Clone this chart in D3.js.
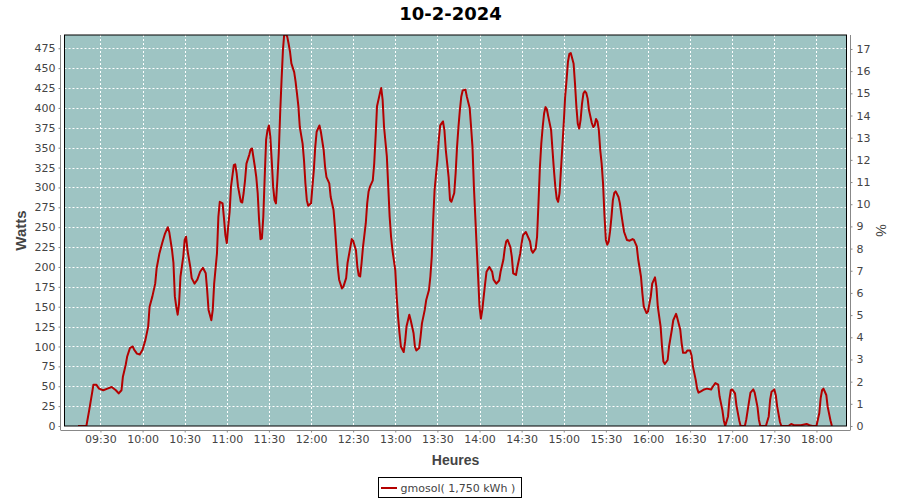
<!DOCTYPE html>
<html><head><meta charset="utf-8">
<script src="https://cdn.jsdelivr.net/npm/d3@7"></script>
<style>
html,body{margin:0;padding:0;background:#fff;}
svg{display:block;}
</style></head>
<body>
<svg id="chart" width="900" height="500"></svg>
<script>
const chartTitle = "10-2-2024";
const seriesName = "gmosol( 1,750 kWh )";
const xTickLabels = ["09:30","10:00","10:30","11:00","11:30","12:00","12:30","13:00","13:30","14:00","14:30","15:00","15:30","16:00","16:30","17:00","17:30","18:00"];
const yTickValues = [0,25,50,75,100,125,150,175,200,225,250,275,300,325,350,375,400,425,450,475];
const pctTickValues = [0,1,2,3,4,5,6,7,8,9,10,11,12,13,14,15,16,17];
const times = ["09:14","09:20","09:22","09:24","09:25","09:27","09:29","09:32","09:35","09:38","09:41","09:43","09:45","09:46","09:48","09:49","09:51","09:53","09:54","09:56","09:58",
"10:00","10:02","10:04","10:05","10:07","10:09","10:10","10:12","10:14","10:16","10:18","10:19","10:21","10:22","10:23","10:24","10:25","10:26","10:27","10:29","10:30","10:31","10:32","10:34","10:35","10:37","10:39","10:41","10:43","10:45","10:46","10:47","10:49","10:50","10:51","10:53","10:54","10:55","10:57","10:58","10:59",
"11:00","11:01","11:02","11:03","11:05","11:06","11:07","11:08","11:10","11:11","11:12","11:13","11:14","11:16","11:17","11:18","11:20","11:21","11:22","11:23","11:24","11:25","11:26","11:27","11:28","11:29","11:30","11:31","11:32","11:33","11:34","11:35","11:36","11:37","11:38","11:39","11:40","11:41","11:43","11:44","11:45","11:46","11:48","11:49","11:50","11:51","11:52","11:54","11:55","11:56","11:57","11:58",
"12:00","12:01","12:02","12:03","12:04","12:06","12:07","12:09","12:10","12:11","12:13","12:14","12:16","12:17","12:18","12:19","12:20","12:22","12:23","12:25","12:26","12:28","12:29","12:30","12:32","12:33","12:34","12:35","12:36","12:37","12:39","12:40","12:41","12:42","12:44","12:45","12:46","12:47","12:49","12:50","12:51","12:52","12:54","12:55","12:56","12:57","12:58",
"13:00","13:01","13:02","13:03","13:04","13:06","13:07","13:08","13:10","13:11","13:13","13:14","13:15","13:17","13:18","13:19","13:21","13:22","13:24","13:25","13:26","13:27","13:28","13:30","13:31","13:32","13:34","13:35","13:36","13:38","13:39","13:40","13:42","13:43","13:44","13:45","13:46","13:47","13:48","13:50","13:51","13:53","13:54","13:55","13:56","13:57","13:58","13:59",
"14:00","14:01","14:02","14:03","14:04","14:05","14:07","14:09","14:10","14:12","14:14","14:15","14:17","14:18","14:19","14:20","14:22","14:23","14:24","14:26","14:27","14:29","14:30","14:31","14:33","14:34","14:36","14:37","14:38","14:40","14:41","14:42","14:43","14:44","14:45","14:46","14:47","14:48","14:49","14:51","14:52","14:53","14:54","14:55","14:56","14:57","14:58","14:59",
"15:00","15:01","15:02","15:03","15:04","15:05","15:07","15:08","15:09","15:10","15:11","15:12","15:13","15:14","15:15","15:16","15:17","15:18","15:20","15:21","15:22","15:23","15:24","15:25","15:26","15:27","15:28","15:29","15:30","15:31","15:32","15:33","15:34","15:35","15:36","15:37","15:39","15:40","15:41","15:42","15:43","15:45","15:47","15:49","15:50","15:52","15:53","15:55","15:56","15:57","15:59",
"16:00","16:02","16:03","16:05","16:06","16:07","16:09","16:10","16:11","16:12","16:14","16:15","16:17","16:18","16:20","16:21","16:23","16:24","16:25","16:27","16:28","16:30","16:31","16:32","16:34","16:35","16:36","16:38","16:40","16:42","16:45","16:46","16:48","16:50","16:51","16:53","16:54","16:55","16:57","16:58","16:59",
"17:00","17:02","17:03","17:05","17:06","17:09","17:10","17:12","17:13","17:15","17:16","17:18","17:19","17:20","17:24","17:26","17:27","17:28","17:30","17:31","17:32","17:34","17:35","17:40","17:42","17:44","17:49","17:53","17:55","17:57",
"18:00","18:02","18:03","18:04","18:05","18:07","18:08","18:10","18:11"];
const watts = [0,0,20,41,52,52,47,45,47,49,45,41,45,62,77,87,98,100,96,91,90,
96,108,125,150,163,179,198,217,230,242,250,244,221,205,163,150,140,154,188,213,234,238,221,200,186,179,184,194,199,192,171,146,133,146,179,217,263,282,280,261,240,
230,251,269,301,328,329,318,301,282,281,293,309,330,341,348,349,326,313,293,259,235,236,263,313,360,372,378,364,334,301,284,280,309,343,393,435,473,495,490,481,471,456,445,433,418,402,376,355,334,305,284,277,
280,301,322,351,370,378,370,347,326,313,305,288,272,251,225,200,184,173,175,186,205,225,235,233,221,200,189,188,205,225,255,280,295,301,309,330,364,402,418,425,410,376,339,301,263,238,221,
196,163,137,117,100,93,106,125,140,133,117,100,95,98,112,129,146,158,171,188,213,259,297,334,360,378,383,372,347,313,284,282,293,318,351,376,397,414,422,423,414,400,376,351,301,263,225,188,
150,135,146,163,179,194,200,194,184,179,183,194,209,223,232,234,225,213,192,190,200,217,230,240,244,240,232,221,218,223,238,280,325,355,376,393,401,398,389,372,347,322,301,286,282,293,322,351,
381,414,435,458,468,469,456,431,402,380,374,385,405,418,421,419,412,397,381,376,378,386,383,372,347,330,305,265,234,228,232,245,263,284,293,295,288,280,267,255,244,234,233,235,234,226,210,188,167,150,142,
144,163,179,187,175,150,125,100,81,78,83,100,121,133,141,135,121,104,92,92,95,95,89,75,58,47,42,44,46,47,46,49,54,52,37,20,7,0,12,33,45,
46,41,26,7,0,0,8,31,42,46,42,24,8,0,0,12,33,43,46,39,25,5,0,0,2.5,1,1,2.5,1,0,
0,16,35,45,47,39,24,7,0];

const toMin = s => { const [h,m] = s.split(":").map(Number); return h*60+m; };
const data = times.map((t,i)=>({t:toMin(t), w:watts[i]}));

const svg = d3.select("#chart");
const L = 64.5, R = 846.5, T = 35, B = 426;
const x = d3.scaleLinear().domain([544.4, 1101.4]).range([L, R]);
const y = d3.scaleLinear().domain([0, 491.7]).range([B, T]);
const yR = d3.scaleLinear().domain([0, 17.63]).range([B, T]);

const tickFont = "DejaVu Sans, sans-serif";
const textCol = "#444";
const axisCol = "#888";

// title
svg.append("text").attr("x", 450.5).attr("y", 20).attr("text-anchor","middle")
  .attr("font-family","DejaVu Sans, sans-serif").attr("font-weight","bold").attr("font-size",18)
  .attr("fill","#000").text(chartTitle);

// plot background
svg.append("rect").attr("x",L).attr("y",T).attr("width",R-L).attr("height",B-T).attr("fill","#9ec4c3");

// grid
const grid = svg.append("g").attr("stroke","#fff").attr("stroke-width",1).attr("stroke-dasharray","2,2");
yTickValues.forEach(v=>{ if(v>0) grid.append("line").attr("x1",L).attr("x2",R).attr("y1",Math.round(y(v))+0.5).attr("y2",Math.round(y(v))+0.5); });
xTickLabels.forEach(s=>{ const xx = Math.round(x(toMin(s)))+0.5; grid.append("line").attr("x1",xx).attr("x2",xx).attr("y1",T).attr("y2",B); });

// line
svg.append("clipPath").attr("id","clip").append("rect").attr("x",L).attr("y",T).attr("width",R-L).attr("height",B-T);
const line = d3.line().x(d=>x(d.t)).y(d=>y(d.w));
svg.append("path").datum(data).attr("d",line).attr("fill","none").attr("stroke","#b40000")
  .attr("stroke-width",2).attr("stroke-linejoin","round").attr("clip-path","url(#clip)");

// plot border
svg.append("rect").attr("x",L).attr("y",T).attr("width",R-L).attr("height",B-T).attr("fill","none").attr("stroke","#000").attr("stroke-width",1);

// left axis
const gL = svg.append("g").attr("transform","translate(60.5,0)")
  .call(d3.axisLeft(y).tickValues(yTickValues).tickSize(2).tickPadding(3).tickSizeOuter(0));
// right axis
const gR = svg.append("g").attr("transform","translate(850.5,0)")
  .call(d3.axisRight(yR).tickValues(pctTickValues).tickSize(2).tickPadding(4).tickSizeOuter(0));
// bottom axis
const gB = svg.append("g").attr("transform","translate(0,430.5)")
  .call(d3.axisBottom(x).tickValues(xTickLabels.map(toMin)).tickFormat((d,i)=>xTickLabels[i]).tickSize(2).tickPadding(3).tickSizeOuter(0));

[gL,gR,gB].forEach(g=>{
  g.select(".domain").attr("stroke",axisCol);
  g.selectAll(".tick line").attr("stroke",axisCol);
  g.selectAll(".tick text").attr("fill",textCol).attr("font-family",tickFont).attr("font-size",11);
});
gL.select(".domain").attr("d", `M0,${T}V${B+4}`);
gR.select(".domain").attr("d", `M0,${T}V${B+4}`);
gB.select(".domain").attr("d", `M${L-4},0H${R+4}`);

// axis labels
svg.append("text").attr("transform",`translate(26,${(T+B)/2}) rotate(-90)`).attr("text-anchor","middle")
  .attr("font-family","Liberation Sans, Arial, sans-serif").attr("font-weight","bold").attr("font-size",15)
  .attr("fill",textCol).text("Watts");
svg.append("text").attr("transform",`translate(876,${(T+B)/2}) rotate(90)`).attr("text-anchor","middle")
  .attr("font-family","Liberation Sans, Arial, sans-serif").attr("font-size",14)
  .attr("fill",textCol).text("%");
svg.append("text").attr("x",(L+R)/2).attr("y",465).attr("text-anchor","middle")
  .attr("font-family","Liberation Sans, Arial, sans-serif").attr("font-weight","bold").attr("font-size",14)
  .attr("fill",textCol).text("Heures");

// legend
const lg = svg.append("g");
lg.append("rect").attr("x",378.5).attr("y",477.5).attr("width",143).attr("height",20).attr("fill","#fff").attr("stroke","#000");
lg.append("line").attr("x1",381).attr("x2",397).attr("y1",488).attr("y2",488).attr("stroke","#b40000").attr("stroke-width",2);
lg.append("text").attr("x",400.5).attr("y",492).attr("font-family",tickFont).attr("font-size",11).attr("fill",textCol).text(seriesName);
</script>
</body></html>
